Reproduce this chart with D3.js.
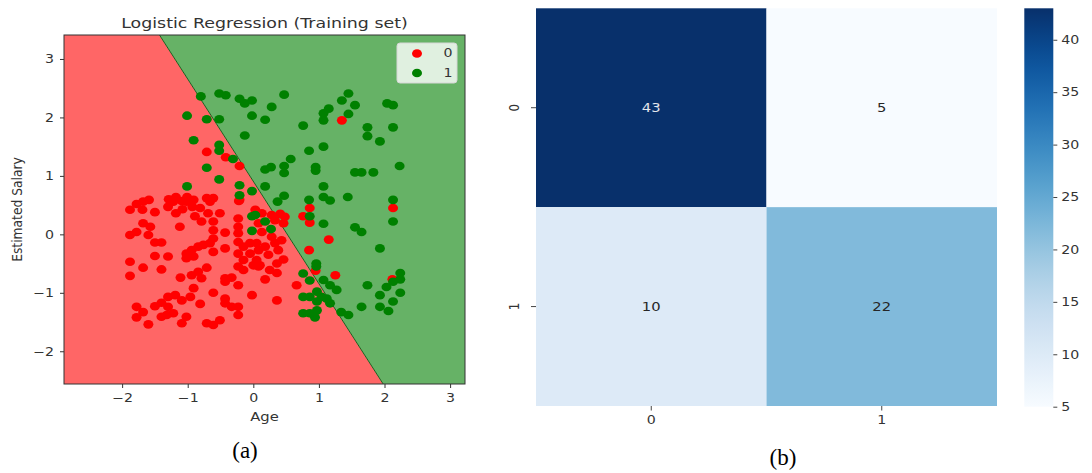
<!DOCTYPE html>
<html><head><meta charset="utf-8">
<script src="https://cdn.jsdelivr.net/npm/d3@7"></script>
<style>
body{margin:0;background:#fff}
svg{display:block}
text{font-family:"DejaVu Sans",sans-serif;fill:#333}
</style>
</head><body>
<svg id="c" width="1092" height="473"></svg>
<script>
// ---------- data: panel (a) ----------
const classLabels = ["0", "1"];
const class0Points = [
[-0.71,1.41],[-0.42,1.32],[-0.21,1.17],[-0.21,0.59],
[-1.88,0.42],[-1.78,0.52],[-1.68,0.56],[-1.59,0.59],[-1.69,0.42],[-1.50,0.38],[-1.29,0.60],[-1.18,0.64],[-1.09,0.57],[-1.01,0.64],[-0.91,0.59],[-0.71,0.62],[-0.61,0.62],[-0.22,0.57],[-1.30,0.47],[-1.18,0.36],[-1.08,0.43],[-0.93,0.47],[-0.81,0.45],[-0.89,0.31],[-0.79,0.22],[-0.69,0.36],[-0.61,0.22],[-0.51,0.36],[-1.22,0.56],[-0.66,0.56],[-1.02,0.56],
[-0.61,0.07],[-0.61,-0.07],[-0.66,-0.15],[-0.76,-0.18],[-0.84,-0.21],[-0.94,-0.27],[-1.02,-0.33],[-1.02,-0.41],[-0.91,-0.38],[-0.61,-0.30],[-0.43,0.03],[-0.43,-0.24],[-1.12,0.13],[-1.68,0.19],[-1.57,0.13],[-1.78,0.04],[-1.88,-0.01],[-1.60,-0.01],[-1.50,-0.14],[-1.40,-0.14],[-1.50,-0.37],[-1.30,-0.38],[-1.88,-0.47],[-1.68,-0.57],[-1.40,-0.60],[-1.88,-0.71],[-1.11,-0.74],[-0.94,-0.70],[-0.84,-0.64],[-0.71,-0.57],[-0.79,-0.75],[-0.91,-0.92],[-0.61,-1.00],[-0.43,-0.75],[-0.33,-0.74],[-0.43,-0.81],[-0.23,-0.87],[-0.02,-1.04],[-1.30,-1.07],[-1.19,-1.04],[-1.09,-1.13],[-0.96,-1.07],[-0.81,-1.19],[-1.50,-1.23],[-1.40,-1.17],[-1.78,-1.24],[-1.68,-1.33],[-1.78,-1.42],[-1.30,-1.24],[-1.32,-1.38],[-1.22,-1.35],[-1.40,-1.41],[-1.02,-1.41],[-1.09,-1.52],[-1.60,-1.54],[-0.71,-1.52],[-0.61,-1.55],[-0.51,-1.47],[-0.43,-1.10],[-0.33,-1.24],[-0.23,-1.24],[-0.23,-1.38],[-0.43,-1.18],
[-0.23,0.27],[-0.23,0.13],[-0.23,0.02],[-0.23,-0.13],[-0.15,-0.21],[-0.23,-0.33],[-0.15,-0.44],[-0.23,-0.55],[-0.05,-0.33],[0.05,-0.44],[-0.05,-0.15],[0.00,-0.53],[-0.15,-0.61],[0.05,-0.15],[0.08,-0.55],
[0.13,0.36],[0.28,0.33],[0.41,0.35],[0.48,0.30],[0.33,0.24],[0.46,0.19],[0.08,0.19],[0.13,0.04],[0.28,-0.04],[0.43,-0.10],[0.33,-0.15],[0.18,-0.21],[0.38,-0.27],[0.08,-0.27],[0.23,-0.35],[0.46,-0.43],[0.36,-0.50],[0.10,-0.53],[0.25,-0.61],[0.36,-0.66],[0.18,-0.77],[0.66,-0.87],[0.36,-1.13],
[0.86,0.45],[0.76,0.31],[0.86,0.20],[1.15,-0.09],[0.85,-0.27],[0.95,-0.62],[1.25,-0.70],[2.13,0.45],[2.12,-0.77],[1.35,1.95],[0.03,0.42]
];
const class1Points = [
[-0.80,2.36],[-0.52,2.41],[-0.42,2.38],[-0.21,2.32],[-0.13,2.24],[-0.02,2.29],[-1.01,2.03],[-0.71,1.97],[-0.52,1.97],[-0.02,2.03],[-0.13,1.69],[-0.91,1.61],[-0.52,1.53],[-0.52,1.43],[-0.31,1.29],[-0.71,1.14],[-0.52,0.94],[-1.01,0.82],[-0.21,0.84],[-0.02,0.74],[-0.21,0.67],
[0.47,2.39],[0.28,2.18],[0.18,1.96],[0.76,1.86],[1.07,2.07],[1.07,1.95],[1.15,2.15],[1.35,2.29],[1.45,2.41],[1.55,2.21],[1.45,2.06],[2.04,2.24],[2.13,2.21],[2.13,1.83],[1.74,1.83],[1.74,1.68],[1.93,1.59],[0.85,1.43],[1.07,1.50],[0.57,1.29],[0.47,1.17],[0.47,1.05],[0.18,1.11],[0.27,1.15],[0.95,1.15],[0.95,1.09],[1.55,1.06],[1.65,1.06],[1.83,1.06],[2.23,1.17],[0.18,0.82],[1.07,0.82],[0.47,0.66],[0.37,0.56],[0.85,0.59],[1.07,0.64],[1.17,0.58],[1.44,0.64],[2.13,0.59],
[-0.02,0.31],[-0.02,0.06],[0.18,0.22],[0.27,0.09],[0.03,0.33],[0.86,0.31],[1.07,0.18],[1.55,0.12],[1.65,0.04],[2.13,0.22],[1.93,-0.24],[0.96,-0.50],[0.96,-0.55],[0.76,-0.67],[0.86,-0.79],[1.07,-0.78],[1.17,-0.87],[1.27,-0.95],[0.97,-0.98],[0.76,-1.07],[0.86,-1.07],[1.04,-1.07],[1.12,-1.10],[0.97,-1.15],[1.17,-1.18],[0.76,-1.35],[0.86,-1.35],[0.97,-1.30],[0.94,-1.42],[1.34,-1.33],[1.45,-1.38],[1.65,-1.24],[1.74,-0.87],[1.93,-1.04],[2.03,-0.90],[2.13,-0.81],[2.24,-0.77],[2.24,-0.66],[2.24,-1.00],[2.13,-1.15],[1.93,-1.24],[2.06,-1.31]
];
const ageDomain = [-2.886, 3.227];
const salaryDomain = [-2.56, 3.41];
const boundaryAge = [-1.43, 1.98];   // age where the decision boundary meets the top / bottom salary limits
const ageTicks = [-2, -1, 0, 1, 2, 3];
const salaryTicks = [-2, -1, 0, 1, 2, 3];

// ---------- data: panel (b) ----------
const cmRows = ["0", "1"];
const cmCols = ["0", "1"];
const cmValues = [[43, 5], [10, 22]];
const cbDomain = [5, 43];
const cbTicks = [5, 10, 15, 20, 25, 30, 35, 40];

// ---------- drawing ----------
const SX = 1.2; // horizontal text stretch of the reference image
const svg = d3.select("#c");
function stretch(sel) {
  sel.each(function () {
    const t = d3.select(this);
    const x = +t.attr("x") || 0, y = +t.attr("y") || 0;
    const prev = t.attr("transform") || "";
    t.attr("transform", `translate(${x},${y}) scale(${SX},1) translate(${-x},${-y}) ${prev}`);
  });
}

// Panel (a)
const A = {l: 64, r: 465, t: 35, b: 384};
const x = d3.scaleLinear().domain(ageDomain).range([A.l, A.r]);
const y = d3.scaleLinear().domain(salaryDomain).range([A.b, A.t]);
const line = d3.line().x(d => x(d[0])).y(d => y(d[1]));
const redRegion = [[ageDomain[0], salaryDomain[1]], [boundaryAge[0], salaryDomain[1]], [boundaryAge[1], salaryDomain[0]], [ageDomain[0], salaryDomain[0]]];
const greenRegion = [[boundaryAge[0], salaryDomain[1]], [ageDomain[1], salaryDomain[1]], [ageDomain[1], salaryDomain[0]], [boundaryAge[1], salaryDomain[0]]];
const ga = svg.append("g");
ga.append("path").attr("d", line(redRegion) + "Z").attr("fill", "#ff6666");
ga.append("path").attr("d", line(greenRegion) + "Z").attr("fill", "#66b266");
ga.append("path").attr("d", line([[boundaryAge[0], salaryDomain[1]], [boundaryAge[1], salaryDomain[0]]]))
  .attr("stroke", "#1d5e1d").attr("stroke-width", 1).attr("fill", "none");

const pointColors = ["#ff0000", "#008000"];
[class0Points, class1Points].forEach((pts, i) => {
  ga.append("g").selectAll("ellipse").data(pts).join("ellipse")
    .attr("cx", d => x(d[0])).attr("cy", d => y(d[1]))
    .attr("rx", 5).attr("ry", 4.3).attr("fill", pointColors[i]);
});

// frame
ga.append("rect").attr("x", A.l).attr("y", A.t).attr("width", A.r - A.l).attr("height", A.b - A.t)
  .attr("fill", "none").attr("stroke", "#333").attr("stroke-width", 1);

const fmt = d3.format("d");
const xAx = ga.append("g").attr("transform", `translate(0,${A.b})`)
  .call(d3.axisBottom(x).tickValues(ageTicks).tickFormat(fmt).tickSize(4).tickPadding(5.5).tickSizeOuter(0));
const yAx = ga.append("g").attr("transform", `translate(${A.l},0)`)
  .call(d3.axisLeft(y).tickValues(salaryTicks).tickFormat(fmt).tickSize(4).tickPadding(6).tickSizeOuter(0));
[xAx, yAx].forEach(g => {
  g.select(".domain").remove();
  g.selectAll("line").attr("stroke", "#333");
  g.selectAll("text").attr("font-family", "DejaVu Sans").attr("font-size", 11.8).attr("fill", "#333");
});
stretch(xAx.selectAll("text"));
stretch(yAx.selectAll("text"));

ga.append("text").attr("x", (A.l + A.r) / 2).attr("y", 28).attr("text-anchor", "middle")
  .attr("font-size", 14.5).text("Logistic Regression (Training set)").call(stretch);
ga.append("text").attr("x", (A.l + A.r) / 2).attr("y", 421).attr("text-anchor", "middle")
  .attr("font-size", 12.3).text("Age").call(stretch);
ga.append("text").attr("transform", `translate(22,${(A.t + A.b) / 2}) scale(${SX},1) rotate(-90)`)
  .attr("text-anchor", "middle").attr("font-size", 12.3).text("Estimated Salary");

// legend
const lg = ga.append("g");
lg.append("rect").attr("x", 397).attr("y", 43).attr("width", 60).attr("height", 40).attr("rx", 3)
  .attr("fill", "rgba(255,255,255,0.8)").attr("stroke", "#d6d6d6").attr("stroke-width", 1);
classLabels.forEach((c, i) => {
  lg.append("ellipse").attr("cx", 417).attr("cy", 53.5 + i * 19.5).attr("rx", 5).attr("ry", 4.3).attr("fill", pointColors[i]);
  lg.append("text").attr("x", 448).attr("y", 57.5 + i * 19.5).attr("text-anchor", "middle")
    .attr("font-size", 11.8).text(c).call(stretch);
});

svg.append("text").attr("x", 245).attr("y", 458).attr("text-anchor", "middle")
  .style("font-family", "'Liberation Serif', serif").style("fill", "#000").attr("font-size", 23).text("(a)");

// Panel (b)
const B = {l: 536, r: 997, t: 8.3, b: 406};
const hx = d3.scaleBand().domain(cmCols).range([B.l, B.r]);
const hy = d3.scaleBand().domain(cmRows).range([B.t, B.b]);
const color = d3.scaleSequential(d3.interpolateBlues).domain(cbDomain);
const gb = svg.append("g");
const cells = [];
cmRows.forEach((r, i) => cmCols.forEach((c, j) => cells.push({r, c, v: cmValues[i][j]})));
gb.selectAll("rect.cell").data(cells).join("rect").attr("class", "cell")
  .attr("x", d => hx(d.c)).attr("y", d => hy(d.r))
  .attr("width", hx.bandwidth()).attr("height", hy.bandwidth())
  .attr("fill", d => color(d.v));
gb.selectAll("text.ann").data(cells).join("text").attr("class", "ann")
  .attr("x", d => hx(d.c) + hx.bandwidth() / 2).attr("y", d => hy(d.r) + hy.bandwidth() / 2 + 4.5)
  .attr("text-anchor", "middle").attr("font-size", 12.3)
  .style("fill", d => d.v > 30 ? "#e4e6ec" : "#262626").text(d => d.v).call(stretch);

const hxAx = gb.append("g").attr("transform", `translate(0,${B.b})`)
  .call(d3.axisBottom(hx).tickSize(4.5).tickPadding(5));
const hyAx = gb.append("g").attr("transform", `translate(${B.l},0)`)
  .call(d3.axisLeft(hy).tickSize(5).tickPadding(5));
[hxAx, hyAx].forEach(g => {
  g.select(".domain").remove();
  g.selectAll("line").attr("stroke", "#444");
  g.selectAll("text").attr("font-family", "DejaVu Sans").attr("font-size", 11.8).attr("fill", "#333");
});
stretch(hxAx.selectAll("text"));
hyAx.selectAll("text").attr("dy", null).attr("text-anchor", "middle")
  .attr("transform", function () { return `translate(-22,0) scale(${SX},1) rotate(-90)`; })
  .attr("x", 0).attr("y", 4.3);

// colorbar
const CB = {l: 1024.3, r: 1053.3};
const cy = d3.scaleLinear().domain(cbDomain).range([406.7, 8.3]);
const grad = svg.append("defs").append("linearGradient").attr("id", "cbg")
  .attr("x1", 0).attr("y1", 1).attr("x2", 0).attr("y2", 0);
d3.range(0, 1.0001, 0.05).forEach(t => grad.append("stop").attr("offset", t)
  .attr("stop-color", color(cbDomain[0] + t * (cbDomain[1] - cbDomain[0]))));
gb.append("rect").attr("x", CB.l).attr("y", cy(cbDomain[1])).attr("width", CB.r - CB.l)
  .attr("height", cy(cbDomain[0]) - cy(cbDomain[1])).attr("fill", "url(#cbg)");
const cbAx = gb.append("g").attr("transform", `translate(${CB.r},0)`)
  .call(d3.axisRight(cy).tickValues(cbTicks).tickFormat(fmt).tickSize(4).tickPadding(4));
cbAx.select(".domain").remove();
cbAx.selectAll("line").attr("stroke", "#444");
cbAx.selectAll("text").attr("font-family", "DejaVu Sans").attr("font-size", 11.8).attr("fill", "#333");
stretch(cbAx.selectAll("text"));

svg.append("text").attr("x", 783).attr("y", 465).attr("text-anchor", "middle")
  .style("font-family", "'Liberation Serif', serif").style("fill", "#000").attr("font-size", 23).text("(b)");
</script>
</body></html>
